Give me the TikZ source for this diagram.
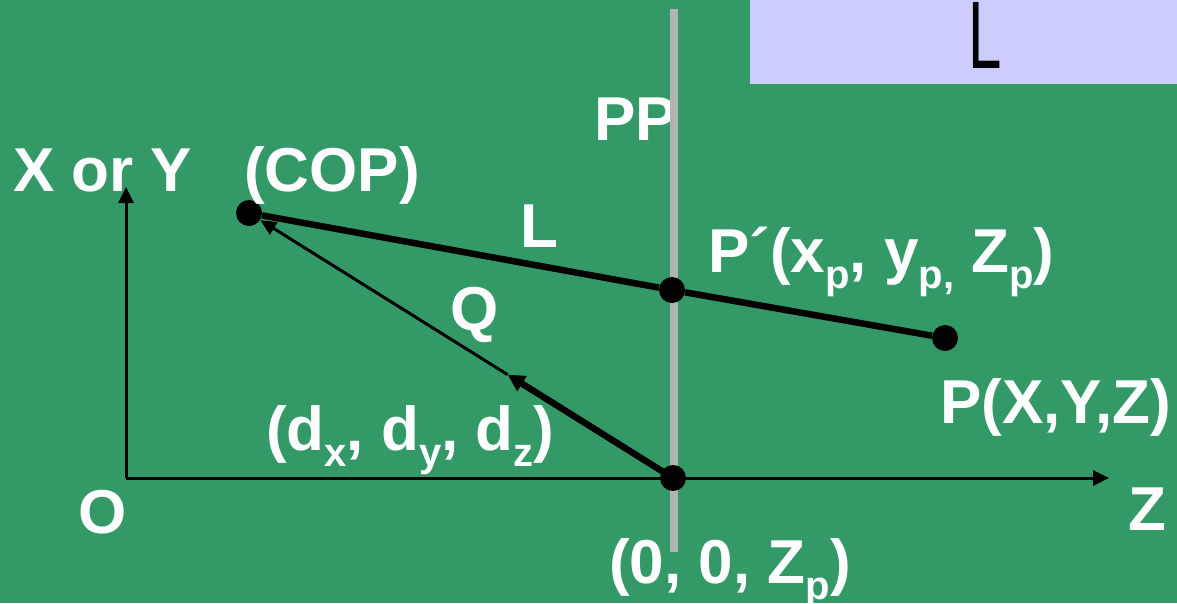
\documentclass[tikz,border=0pt]{standalone}
\usepackage{fontspec}
\setmainfont{Liberation Sans}
\usetikzlibrary{arrows.meta,calc}
\definecolor{bggreen}{HTML}{339966}
\definecolor{boxlilac}{HTML}{CCCCFF}
\definecolor{ppgray}{HTML}{B3B3B3}
\newcommand\sbs[1]{\raisebox{-0.27em}{\fontsize{40}{40}\selectfont #1}}
\begin{document}
\begin{tikzpicture}[x=1pt,y=-1pt,
  lbl/.style={text=white,font=\bfseries\fontsize{62}{62}\selectfont,inner sep=0pt,anchor=base west},
  dot/.style={circle,fill=black,inner sep=0pt,minimum size=26pt},
  axisline/.style={line width=3pt,-{Triangle[length=16pt,width=15pt]}},
  heavy/.style={line width=6.5pt},
  thinarrow/.style={line width=3pt,-{Triangle[length=16pt,width=14pt]}},
  heavyarrow/.style={line width=6.5pt,-{Triangle[length=17pt,width=17pt]}}]
\useasboundingbox (0,0) rectangle (1177,603);
\fill[bggreen] (0,0) rectangle (1177,603);
% lilac box with clipped L
\fill[boxlilac] (750,0) rectangle (1177,84);
\begin{scope}
  \clip (750,0) rectangle (1177,84);
  \node[inner sep=0pt,anchor=base west,text=black] (boxL) at (968,68)
    {\scalebox{1}[1.6]{\fontsize{60}{60}\selectfont L}};
\end{scope}
% PP label and projection plane
\node[lbl] (pplabel) at (594,140) {PP};
\coordinate (pptop) at (674,9);
\coordinate (ppbot) at (674,552);
\draw[ppgray,line width=8pt] (pptop) -- (ppbot);
% axes
\coordinate (O) at (126,478);
\coordinate (ytip) at (126,187);
\coordinate (ztip) at (1109,478);
\draw[axisline] (O) -- (ytip);
\draw[axisline] (O) -- (ztip);
% points
\node[dot] (cop) at (249,213) {};
\node[dot] (pprime) at (672,290) {};
\node[dot] (p) at (945,338) {};
\node[dot] (zp) at (673,478) {};
\coordinate (mid) at ($(zp)!0.39!(cop)$);
% line L
\draw[heavy] (cop) -- (pprime) -- (p);
% vector Q
\draw[heavyarrow] (zp.center) -- (mid);
\draw[thinarrow] (mid) -- (cop);
% labels
\node[lbl] (xy) at (13,191) {X or Y};
\node[lbl] (coplbl) at (244,191) {(COP)};
\node[lbl] (llbl) at (520,247) {L};
\node[lbl] (pplbl) at (708,272) {P´(x\sbs{p}, y\sbs{p,} Z\sbs{p})};
\node[lbl] (qlbl) at (450,330) {Q};
\node[lbl] (dlbl) at (266,450) {(d\sbs{x}, d\sbs{y}, d\sbs{z})};
\node[lbl] (plbl) at (940,423) {P(X,Y,Z)};
\node[lbl] (olbl) at (78,533) {O};
\node[lbl] (zlbl) at (1128,530) {Z};
\node[lbl] (zplbl) at (609,583) {(0, 0, Z\sbs{p})};
\end{tikzpicture}
\end{document}
